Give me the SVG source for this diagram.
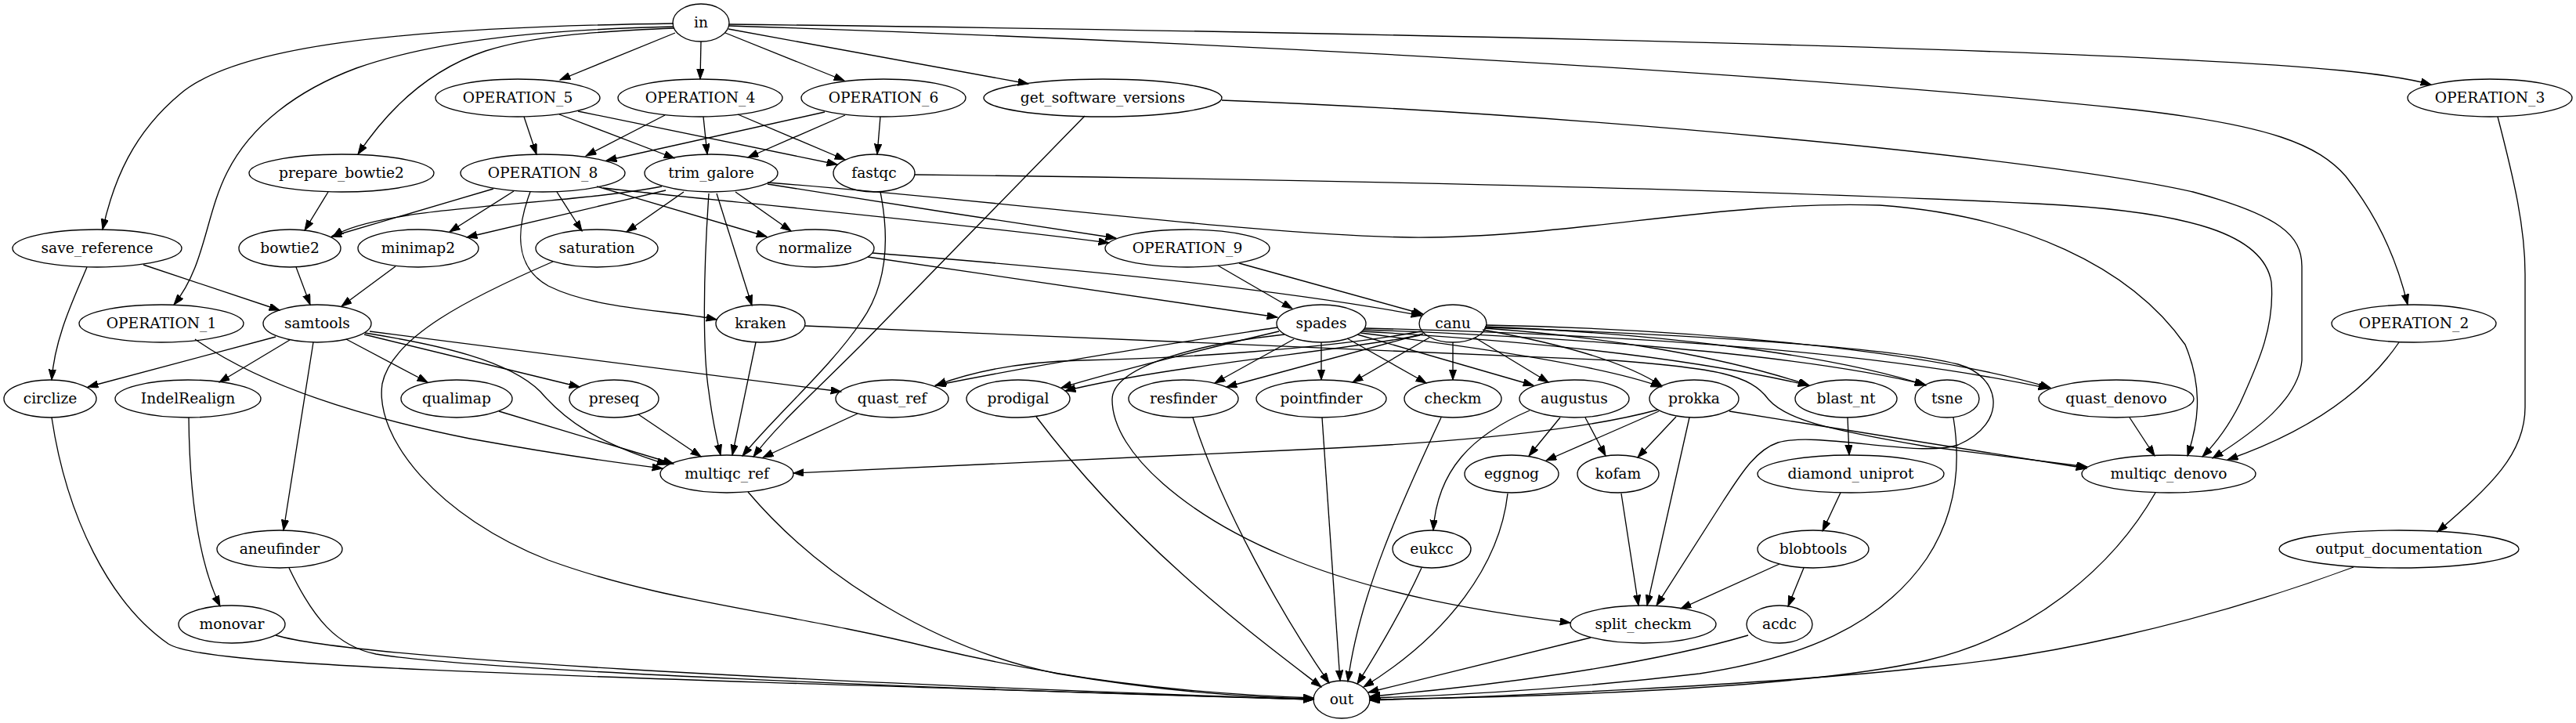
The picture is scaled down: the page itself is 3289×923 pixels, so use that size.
<svg xmlns="http://www.w3.org/2000/svg" width="3289" height="923" viewBox="0 0 3289 923">
<style>
.n ellipse{fill:none;stroke:#000;stroke-width:1.33}
.n text{font-family:"DejaVu Serif",serif;font-size:18.67px;text-anchor:middle;fill:#000}
#edges path{fill:none;stroke:#000;stroke-width:1.33;marker-end:url(#ah)}
</style>
<defs>
<marker id="ah" markerUnits="userSpaceOnUse" markerWidth="15" markerHeight="11" refX="13.3" refY="4.67" orient="auto">
<path d="M0,0 L13.3,4.67 L0,9.33 Z" fill="#000" stroke="#000" stroke-width="1"/>
</marker>
</defs>
<rect width="3289" height="923" fill="#fff"/>
<g id="edges">
<path d="M895,53 L894,101"/>
<path d="M862,42 L715,102"/>
<path d="M926,42 L1078,103"/>
<path d="M930,37 L1313,107"/>
<path d="M861,36 C760,40 680,46 620,65 C560,85 505,125 457,197"/>
<path d="M860,30 C500,35 300,60 230,120 C170,170 145,230 131,293"/>
<path d="M860,34 C700,38 560,50 455,87 C380,115 320,160 290,220 C262,275 262,340 222,389"/>
<path d="M931,31 C1700,40 2700,62 2990,90 C3040,95 3075,100 3104,108"/>
<path d="M931,33 C1600,55 2300,95 2725,140 C2900,160 2960,185 2995,225 C3035,275 3060,330 3074,389"/>
<path d="M669,149 L685,197"/>
<path d="M714,146 L861,202"/>
<path d="M738,142 L1069,210"/>
<path d="M849,147 L748,199"/>
<path d="M898,149 L903,197"/>
<path d="M942,146 L1079,204"/>
<path d="M1053,143 L774,205"/>
<path d="M1079,147 L955,201"/>
<path d="M1124,149 L1120,197"/>
<path d="M1385,148 L1100,440 C1040,500 990,545 962,583"/>
<path d="M1560,128 C2000,145 2600,200 2800,245 C2910,275 2939,300 2939,340 L2939,460 C2935,510 2880,550 2825,585"/>
<path d="M3189,149 C3210,230 3224,290 3224,350 L3224,520 C3224,580 3180,620 3112,679"/>
<path d="M419,245 L389,294"/>
<path d="M630,241 L423,302"/>
<path d="M656,244 L574,296"/>
<path d="M711,245 L743,295"/>
<path d="M677,245 C660,290 655,340 700,365 C760,395 850,395 915,408"/>
<path d="M762,238 L979,302"/>
<path d="M770,240 C900,255 1200,282 1416,310"/>
<path d="M845,238 C760,255 600,262 520,275 C470,283 440,292 425,302"/>
<path d="M850,243 L596,303"/>
<path d="M873,245 L800,296"/>
<path d="M939,245 L1010,295"/>
<path d="M915,247 L960,390"/>
<path d="M905,247 C898,350 897,450 905,500 C910,540 915,560 920,581"/>
<path d="M980,235 C1100,255 1300,285 1425,304"/>
<path d="M980,233 C1300,258 1600,300 1800,303 C2000,305 2200,255 2400,262 C2580,275 2720,340 2790,440 C2815,500 2805,545 2793,582"/>
<path d="M1124,245 C1135,300 1135,360 1100,410 C1060,470 990,530 948,582"/>
<path d="M1168,223 C1600,228 2200,240 2600,260 C2800,270 2890,300 2900,360 C2905,420 2880,470 2860,515 C2845,545 2830,565 2812,583"/>
<path d="M183,338 L357,396"/>
<path d="M111,341 C95,380 70,430 66,485"/>
<path d="M378,341 L396,389"/>
<path d="M505,340 L436,391"/>
<path d="M706,334 C600,380 500,430 488,490 C478,560 560,660 700,715 C850,770 1000,780 1190,827 C1350,865 1500,885 1677,891"/>
<path d="M1108,328 L1631,405"/>
<path d="M1114,323 C1400,345 1650,372 1815,403"/>
<path d="M1555,339 L1650,394"/>
<path d="M1582,336 L1817,401"/>
<path d="M249,433 C330,490 450,530 600,560 C700,578 780,590 846,598"/>
<path d="M352,430 L112,494"/>
<path d="M370,434 L280,488"/>
<path d="M400,437 L362,677"/>
<path d="M442,433 L546,488"/>
<path d="M465,427 L740,494"/>
<path d="M466,425 C560,440 650,460 690,500 C720,535 760,565 852,593"/>
<path d="M472,423 L1074,500"/>
<path d="M965,437 L935,581"/>
<path d="M1028,416 L2060,460 C2190,470 2235,478 2258,510 C2280,535 2330,548 2460,570 L2665,596"/>
<path d="M1631,418 C1540,432 1380,455 1194,492"/>
<path d="M1633,423 C1560,440 1420,475 1355,495"/>
<path d="M1652,433 L1551,489"/>
<path d="M1687,437 L1687,485"/>
<path d="M1720,432 L1821,489"/>
<path d="M1733,427 L1958,492"/>
<path d="M1737,425 C1900,445 2050,468 2121,494"/>
<path d="M1739,423 C1950,435 2150,455 2309,492"/>
<path d="M1741,421 C2000,430 2300,452 2458,491"/>
<path d="M1742,419 C2100,428 2400,450 2616,496"/>
<path d="M1640,427 C1520,440 1420,470 1420,510 C1420,580 1520,660 1640,710 C1760,760 1900,782 2005,795"/>
<path d="M1814,423 C1700,445 1500,458 1380,460 C1300,462 1240,475 1195,492"/>
<path d="M1813,428 C1700,450 1500,465 1360,499"/>
<path d="M1817,426 L1566,494"/>
<path d="M1825,431 L1727,488"/>
<path d="M1855,437 L1855,485"/>
<path d="M1883,431 L1977,488"/>
<path d="M1893,421 C2000,440 2080,465 2122,493"/>
<path d="M1895,419 C2050,430 2200,455 2310,492"/>
<path d="M1896,417 C2100,425 2330,450 2459,492"/>
<path d="M1897,415 C2150,420 2450,445 2618,495"/>
<path d="M1897,418 C2100,425 2400,440 2500,465 C2555,480 2565,540 2500,568 C2450,585 2320,550 2270,565 C2240,575 2220,610 2200,640 L2115,773"/>
<path d="M1992,533 L1952,582"/>
<path d="M2024,533 L2050,582"/>
<path d="M1953,524 C1880,555 1835,600 1830,677"/>
<path d="M2118,525 L1974,588"/>
<path d="M2140,532 L2091,584"/>
<path d="M2157,533 L2103,773"/>
<path d="M2117,523 C2000,555 1800,568 1640,575 L1013,604"/>
<path d="M2208,525 L2664,598"/>
<path d="M2070,630 L2092,773"/>
<path d="M1925,630 C1915,720 1850,810 1741,877"/>
<path d="M1815,725 C1790,780 1760,830 1733,873"/>
<path d="M1840,533 C1790,640 1735,760 1721,870"/>
<path d="M1688,533 L1711,869"/>
<path d="M1523,533 C1560,650 1640,790 1697,872"/>
<path d="M1323,532 C1450,700 1600,810 1687,877"/>
<path d="M1095,528 L974,584"/>
<path d="M637,525 L860,592"/>
<path d="M815,529 L895,583"/>
<path d="M955,628 C1050,740 1200,830 1350,860 C1500,885 1600,890 1677,892"/>
<path d="M66,533 C85,660 140,770 215,822 C260,850 600,860 1677,893"/>
<path d="M369,725 C400,790 430,825 480,835 C600,855 1200,880 1677,893"/>
<path d="M241,533 C242,640 255,720 281,774"/>
<path d="M352,811 C450,840 1000,870 1677,893"/>
<path d="M2031,814 L1747,884"/>
<path d="M2232,811 C2100,850 1900,876 1749,889"/>
<path d="M2494,533 C2505,600 2495,660 2460,713 C2400,800 2300,840 2170,860 C2000,880 1850,888 1749,891"/>
<path d="M2752,629 C2700,720 2600,810 2460,843 C2300,880 1950,890 1749,893"/>
<path d="M3005,724 C2800,800 2600,840 2460,852 C2250,875 1900,890 1749,894"/>
<path d="M2359,533 L2361,581"/>
<path d="M2350,629 L2327,678"/>
<path d="M2272,720 L2146,777"/>
<path d="M2303,725 L2283,774"/>
<path d="M2719,533 L2751,582"/>
<path d="M3063,437 C3020,500 2950,550 2844,587"/>
</g>
<g id="node-in" class="n"><ellipse cx="895" cy="29" rx="36" ry="24"/><text x="895" y="35">in</text></g>
<g id="node-OPERATION_5" class="n"><ellipse cx="661" cy="125" rx="105" ry="24"/><text x="661" y="131">OPERATION_5</text></g>
<g id="node-OPERATION_4" class="n"><ellipse cx="894" cy="125" rx="105" ry="24"/><text x="894" y="131">OPERATION_4</text></g>
<g id="node-OPERATION_6" class="n"><ellipse cx="1128" cy="125" rx="105" ry="24"/><text x="1128" y="131">OPERATION_6</text></g>
<g id="node-get_software_versions" class="n"><ellipse cx="1408" cy="125" rx="152" ry="24"/><text x="1408" y="131">get_software_versions</text></g>
<g id="node-OPERATION_3" class="n"><ellipse cx="3179" cy="125" rx="105" ry="24"/><text x="3179" y="131">OPERATION_3</text></g>
<g id="node-prepare_bowtie2" class="n"><ellipse cx="436" cy="221" rx="118" ry="24"/><text x="436" y="227">prepare_bowtie2</text></g>
<g id="node-OPERATION_8" class="n"><ellipse cx="693" cy="221" rx="105" ry="24"/><text x="693" y="227">OPERATION_8</text></g>
<g id="node-trim_galore" class="n"><ellipse cx="908" cy="221" rx="85" ry="24"/><text x="908" y="227">trim_galore</text></g>
<g id="node-fastqc" class="n"><ellipse cx="1116" cy="221" rx="52" ry="24"/><text x="1116" y="227">fastqc</text></g>
<g id="node-save_reference" class="n"><ellipse cx="124" cy="317" rx="108" ry="24"/><text x="124" y="323">save_reference</text></g>
<g id="node-bowtie2" class="n"><ellipse cx="370" cy="317" rx="65" ry="24"/><text x="370" y="323">bowtie2</text></g>
<g id="node-minimap2" class="n"><ellipse cx="534" cy="317" rx="77" ry="24"/><text x="534" y="323">minimap2</text></g>
<g id="node-saturation" class="n"><ellipse cx="762" cy="317" rx="78" ry="24"/><text x="762" y="323">saturation</text></g>
<g id="node-normalize" class="n"><ellipse cx="1041" cy="317" rx="75" ry="24"/><text x="1041" y="323">normalize</text></g>
<g id="node-OPERATION_9" class="n"><ellipse cx="1516" cy="317" rx="105" ry="24"/><text x="1516" y="323">OPERATION_9</text></g>
<g id="node-OPERATION_1" class="n"><ellipse cx="206" cy="413" rx="105" ry="24"/><text x="206" y="419">OPERATION_1</text></g>
<g id="node-samtools" class="n"><ellipse cx="405" cy="413" rx="69" ry="24"/><text x="405" y="419">samtools</text></g>
<g id="node-kraken" class="n"><ellipse cx="971" cy="413" rx="57" ry="24"/><text x="971" y="419">kraken</text></g>
<g id="node-spades" class="n"><ellipse cx="1687" cy="413" rx="57" ry="24"/><text x="1687" y="419">spades</text></g>
<g id="node-canu" class="n"><ellipse cx="1855" cy="413" rx="43" ry="24"/><text x="1855" y="419">canu</text></g>
<g id="node-OPERATION_2" class="n"><ellipse cx="3082" cy="413" rx="105" ry="24"/><text x="3082" y="419">OPERATION_2</text></g>
<g id="node-circlize" class="n"><ellipse cx="64" cy="509" rx="59" ry="24"/><text x="64" y="515">circlize</text></g>
<g id="node-IndelRealign" class="n"><ellipse cx="240" cy="509" rx="93" ry="24"/><text x="240" y="515">IndelRealign</text></g>
<g id="node-qualimap" class="n"><ellipse cx="583" cy="509" rx="71" ry="24"/><text x="583" y="515">qualimap</text></g>
<g id="node-preseq" class="n"><ellipse cx="784" cy="509" rx="57" ry="24"/><text x="784" y="515">preseq</text></g>
<g id="node-quast_ref" class="n"><ellipse cx="1139" cy="509" rx="72" ry="24"/><text x="1139" y="515">quast_ref</text></g>
<g id="node-prodigal" class="n"><ellipse cx="1300" cy="509" rx="66" ry="24"/><text x="1300" y="515">prodigal</text></g>
<g id="node-resfinder" class="n"><ellipse cx="1511" cy="509" rx="70" ry="24"/><text x="1511" y="515">resfinder</text></g>
<g id="node-pointfinder" class="n"><ellipse cx="1687" cy="509" rx="83" ry="24"/><text x="1687" y="515">pointfinder</text></g>
<g id="node-checkm" class="n"><ellipse cx="1855" cy="509" rx="62" ry="24"/><text x="1855" y="515">checkm</text></g>
<g id="node-augustus" class="n"><ellipse cx="2010" cy="509" rx="70" ry="24"/><text x="2010" y="515">augustus</text></g>
<g id="node-prokka" class="n"><ellipse cx="2163" cy="509" rx="57" ry="24"/><text x="2163" y="515">prokka</text></g>
<g id="node-blast_nt" class="n"><ellipse cx="2357" cy="509" rx="65" ry="24"/><text x="2357" y="515">blast_nt</text></g>
<g id="node-tsne" class="n"><ellipse cx="2486" cy="509" rx="41" ry="24"/><text x="2486" y="515">tsne</text></g>
<g id="node-quast_denovo" class="n"><ellipse cx="2702" cy="509" rx="99" ry="24"/><text x="2702" y="515">quast_denovo</text></g>
<g id="node-multiqc_ref" class="n"><ellipse cx="928" cy="605" rx="85" ry="24"/><text x="928" y="611">multiqc_ref</text></g>
<g id="node-eggnog" class="n"><ellipse cx="1930" cy="605" rx="60" ry="24"/><text x="1930" y="611">eggnog</text></g>
<g id="node-kofam" class="n"><ellipse cx="2066" cy="605" rx="52" ry="24"/><text x="2066" y="611">kofam</text></g>
<g id="node-diamond_uniprot" class="n"><ellipse cx="2363" cy="605" rx="119" ry="24"/><text x="2363" y="611">diamond_uniprot</text></g>
<g id="node-multiqc_denovo" class="n"><ellipse cx="2769" cy="605" rx="111" ry="24"/><text x="2769" y="611">multiqc_denovo</text></g>
<g id="node-aneufinder" class="n"><ellipse cx="357" cy="701" rx="80" ry="24"/><text x="357" y="707">aneufinder</text></g>
<g id="node-eukcc" class="n"><ellipse cx="1828" cy="701" rx="50" ry="24"/><text x="1828" y="707">eukcc</text></g>
<g id="node-blobtools" class="n"><ellipse cx="2315" cy="701" rx="71" ry="24"/><text x="2315" y="707">blobtools</text></g>
<g id="node-output_documentation" class="n"><ellipse cx="3063" cy="701" rx="153" ry="24"/><text x="3063" y="707">output_documentation</text></g>
<g id="node-monovar" class="n"><ellipse cx="296" cy="797" rx="68" ry="24"/><text x="296" y="803">monovar</text></g>
<g id="node-split_checkm" class="n"><ellipse cx="2098" cy="797" rx="93" ry="24"/><text x="2098" y="803">split_checkm</text></g>
<g id="node-acdc" class="n"><ellipse cx="2272" cy="797" rx="42" ry="24"/><text x="2272" y="803">acdc</text></g>
<g id="node-out" class="n"><ellipse cx="1713" cy="893" rx="36" ry="24"/><text x="1713" y="899">out</text></g>
</svg>
